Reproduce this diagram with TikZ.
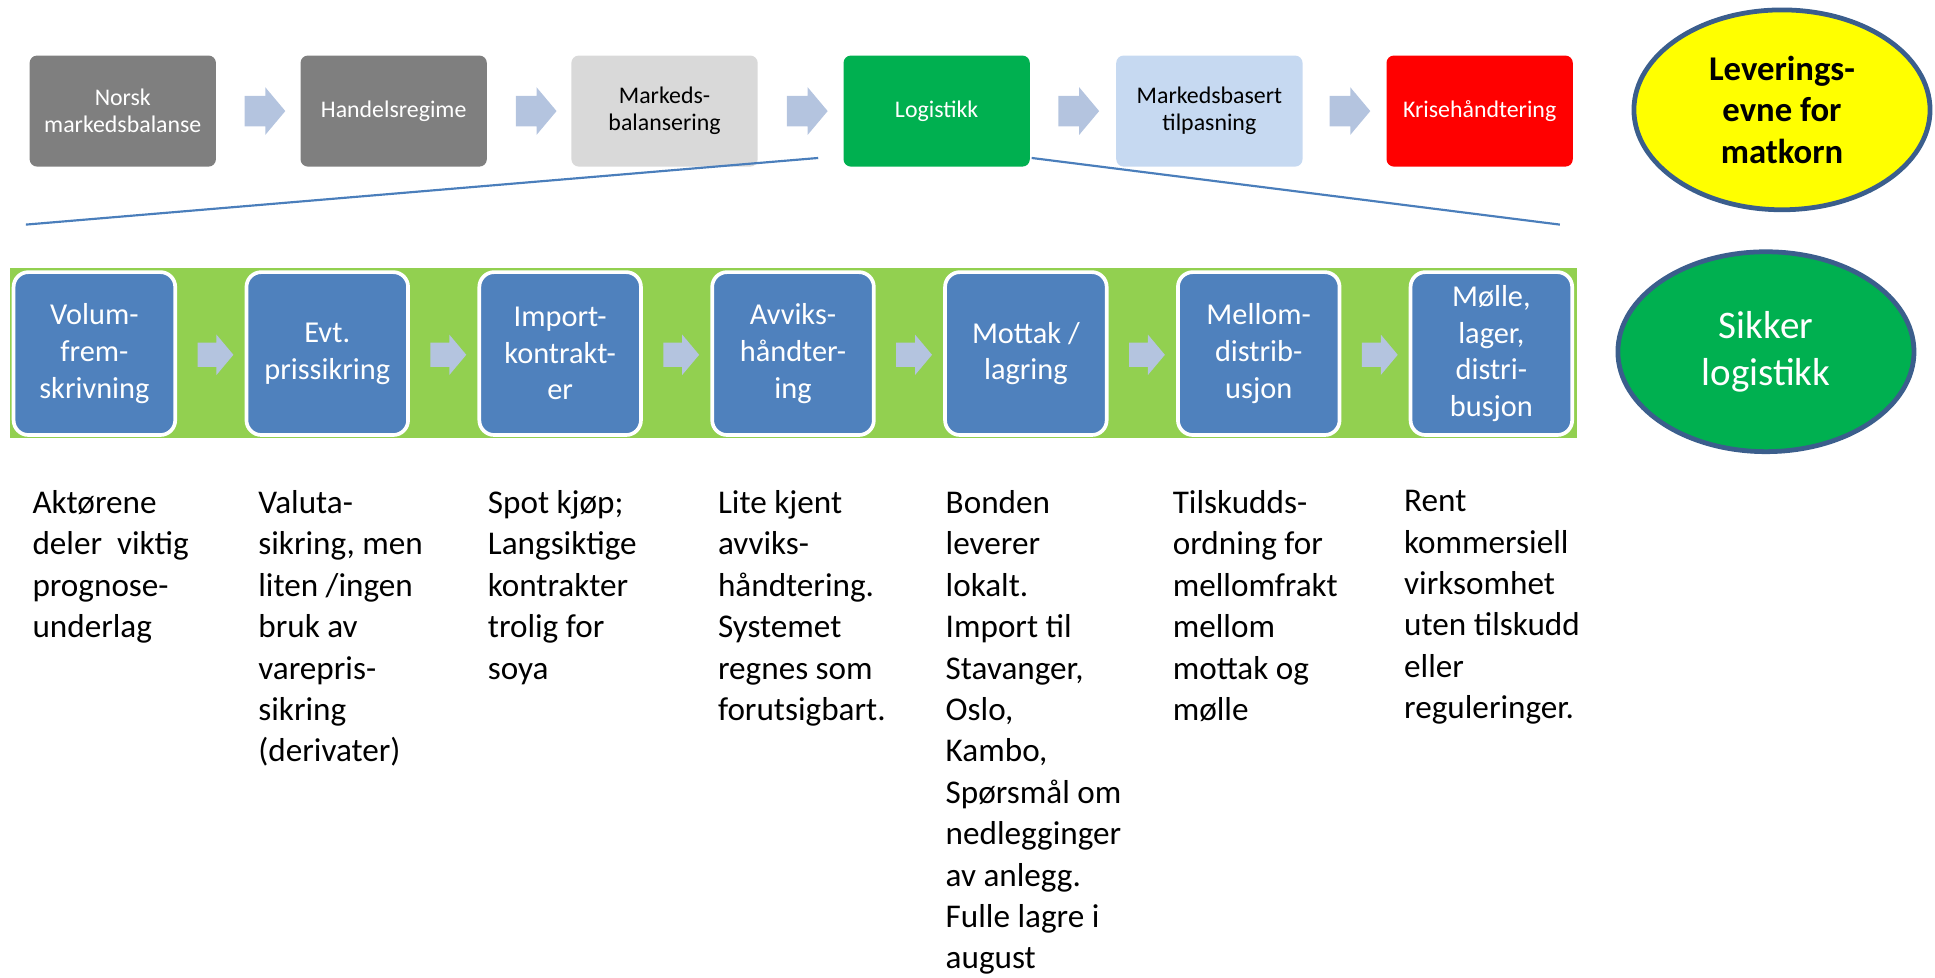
\documentclass[tikz,border=0pt]{standalone}
\usepackage{fontspec}
\setmainfont{Carlito}
\usepackage{xcolor}
\usepackage{tikz}
\usetikzlibrary{positioning,shapes,shapes.arrows}

\definecolor{darkgrey}{HTML}{7F7F7F}
\definecolor{lightgrey}{HTML}{D9D9D9}
\definecolor{logigreen}{HTML}{00B050}
\definecolor{paleblue}{HTML}{C6D9F1}
\definecolor{crisisred}{HTML}{FF0000}
\definecolor{chainblue}{HTML}{4F81BD}
\definecolor{bandgreen}{HTML}{92D050}
\definecolor{chevblue}{HTML}{B4C4DF}
\definecolor{goalrim}{HTML}{3B5E8C}
\definecolor{fanblue}{HTML}{4A7EBB}
\definecolor{goalyellow}{HTML}{FFFF00}

\tikzset{
  topbox/.style={rectangle, rounded corners=0.12cm, minimum width=3.02cm, minimum height=1.8cm,
    align=center, inner sep=2pt, font=\fontsize{11}{12.5}\selectfont},
  chainbox/.style={rectangle, rounded corners=0.24cm, fill=chainblue, draw=white, line width=1.7pt,
    minimum width=2.62cm, minimum height=2.64cm, align=center, text=white,
    font=\fontsize{14}{16.9}\selectfont},
  topchev/.style={single arrow, fill=chevblue, draw=none, inner sep=0pt, single arrow tip angle=100,
    minimum height=0.66cm, single arrow head extend=0.14cm},
  chainchev/.style={single arrow, fill=chevblue, draw=none, inner sep=0pt, single arrow tip angle=100,
    minimum height=0.58cm, single arrow head extend=0.13cm},
  note/.style={anchor=north west, align=left, inner sep=0pt, font=\fontsize{15.3}{19.1}\selectfont,
    execute at begin node={\rule{0pt}{14pt}}},
  goal/.style={ellipse, draw=goalrim, line width=2.2pt, minimum width=4.8cm, minimum height=3.24cm,
    align=center, inner sep=0pt}
}

\begin{document}
\begin{tikzpicture}[x=0.02cm,y=-0.02cm]
    \useasboundingbox (0,0) rectangle (1568,792);
    % top row
    \node[topbox, fill=darkgrey, text=white] (norsk) at (99.5,90) {Norsk\\markedsbalanse};
    \node[topbox, fill=darkgrey, text=white] (handel) at (319,90) {Handelsregime};
    \node[topbox, fill=lightgrey] (balanse) at (538.5,90) {Markeds-\\balansering};
    \node[topbox, fill=logigreen, text=white] (logi) at (759,90) {Logistikk};
    \node[topbox, fill=paleblue] (tilpas) at (980,90) {Markedsbasert\\tilpasning};
    \node[topbox, fill=crisisred, text=white] (krise) at (1199,90) {Krisehåndtering};
    \node[topchev] (t1) at (209.5,90) {\rule{0pt}{0.48cm}};
    \node[topchev] (t2) at (429.3,90) {\rule{0pt}{0.48cm}};
    \node[topchev] (t3) at (649,90) {\rule{0pt}{0.48cm}};
    \node[topchev] (t4) at (869,90) {\rule{0pt}{0.48cm}};
    \node[topchev] (t5) at (1088.7,90) {\rule{0pt}{0.48cm}};
    \node[goal, fill=goalyellow, font=\fontsize{16}{19.1}\selectfont\bfseries] (evne) at (1444,89)
        {Leverings-\\evne for\\matkorn};
    % zoom lines
    \coordinate (fanL) at (663,128);
    \coordinate (fanR) at (836,128);
    \coordinate (endL) at (21,182);
    \coordinate (endR) at (1264,182);
    \draw[fanblue, line width=1pt] (fanL) -- (endL);
    \draw[fanblue, line width=1pt] (fanR) -- (endR);
    % chain
    \fill[bandgreen] (8,217) rectangle (1278,355);
    \node[chainbox] (volum) at (76.5,286.5) {Volum-\\frem-\\skrivning};
    \node[chainbox] (pris) at (265.2,286.5) {Evt.\\prissikring};
    \node[chainbox] (import) at (453.9,286.5) {Import-\\kontrakt-\\er};
    \node[chainbox] (avvik) at (642.6,286.5) {Avviks-\\håndter-\\ing};
    \node[chainbox] (mottak) at (831.3,286.5) {Mottak /\\lagring};
    \node[chainbox] (mellom) at (1020,286.5) {Mellom-\\distrib-\\usjon};
    \node[chainbox] (molle) at (1208.5,286.5) {Mølle,\\lager,\\distri-\\busjon};
    \node[chainchev] (c1) at (170.5,287.5) {\rule{0pt}{0.38cm}};
    \node[chainchev] (c2) at (359.2,287.5) {\rule{0pt}{0.38cm}};
    \node[chainchev] (c3) at (547.9,287.5) {\rule{0pt}{0.38cm}};
    \node[chainchev] (c4) at (736.6,287.5) {\rule{0pt}{0.38cm}};
    \node[chainchev] (c5) at (925.3,287.5) {\rule{0pt}{0.38cm}};
    \node[chainchev] (c6) at (1114,287.5) {\rule{0pt}{0.38cm}};
    \node[goal, fill=logigreen, text=white, font=\fontsize{18}{21.5}\selectfont] (sikker) at (1431,285)
        {Sikker\\logistikk};
    % notes
    \node[note] (n1) at (26,397) {Aktørene\\deler\ \ viktig\\prognose-\\underlag};
    \node[note] (n2) at (209,397) {Valuta-\\sikring, men\\liten /ingen\\bruk av\\varepris-\\sikring\\(derivater)};
    \node[note] (n3) at (395,397) {Spot kjøp;\\Langsiktige\\kontrakter\\trolig for\\soya};
    \node[note] (n4) at (581.5,397) {Lite kjent\\avviks-\\håndtering.\\Systemet\\regnes som\\forutsigbart.};
    \node[note] (n5) at (766,397) {Bonden\\leverer\\lokalt.\\Import til\\Stavanger,\\Oslo,\\Kambo,\\Spørsmål om\\nedlegginger\\av anlegg.\\Fulle lagre i\\august};
    \node[note] (n6) at (950,397) {Tilskudds-\\ordning for\\mellomfrakt\\mellom\\mottak og\\mølle};
    \node[note] (n7) at (1137.5,397) {Rent\\kommersiell\\virksomhet\\uten tilskudd\\eller\\reguleringer.};
\end{tikzpicture}
\end{document}
